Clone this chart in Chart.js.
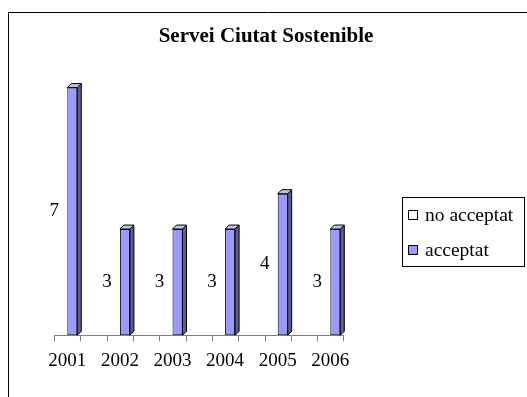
<!DOCTYPE html>
<html><head><meta charset="utf-8">
<script src="https://cdn.jsdelivr.net/npm/chart.js@4.4.0/dist/chart.umd.min.js"></script>
<style>html,body{margin:0;padding:0;background:#fff;overflow:hidden;} #wrap{position:relative;width:527px;height:397px;}</style>
</head><body><div id="wrap"><canvas id="c" width="527" height="397"></canvas></div>
<script>
// ---- data ----
const categories = ['2001', '2002', '2003', '2004', '2005', '2006'];
const noAcceptat = [0, 0, 0, 0, 0, 0];
const acceptat = [7, 3, 3, 3, 4, 3];
const seriesNames = ['no acceptat', 'acceptat'];
const chartTitle = 'Servei Ciutat Sostenible';

// ---- styles ----
const FONT = '"Liberation Serif", "Times New Roman", serif';
const FRONT = '#9999ff', SIDE = '#5c5c99', TOP = '#c4c4d8';

const deco = {
  id: 'deco',
  beforeDraw(chart) {
    const ctx = chart.ctx;
    ctx.save();
    ctx.fillStyle = '#fff';
    ctx.fillRect(0, 0, chart.width, chart.height);
    ctx.strokeStyle = '#000';
    ctx.lineWidth = 1;
    ctx.beginPath();
    ctx.moveTo(8.5, chart.height);
    ctx.lineTo(8.5, 12.5);
    ctx.lineTo(chart.width, 12.5);
    ctx.stroke();
    ctx.restore();
  },
  afterDatasetsDraw(chart) {
    const ctx = chart.ctx, xs = chart.scales.x, area = chart.chartArea;
    const cw = xs.width / categories.length;
    ctx.save();
    // category axis with ticks
    ctx.strokeStyle = '#808080';
    ctx.lineWidth = 1;
    const yb = Math.round(area.bottom) + 0.5;
    const first = xs.getPixelForValue(0) - cw / 4;
    const last = xs.getPixelForValue(categories.length - 1) + cw / 4;
    ctx.beginPath();
    ctx.moveTo(first, yb); ctx.lineTo(last, yb);
    categories.forEach((c, i) => {
      const p = xs.getPixelForValue(i);
      [p - cw / 4, p + cw / 4].forEach(t => {
        const tx = Math.round(t) + 0.5;
        ctx.moveTo(tx, yb); ctx.lineTo(tx, yb + 6);
      });
    });
    ctx.stroke();
    // 3D faces
    const d = 4;
    ctx.strokeStyle = '#000';
    const meta = chart.getDatasetMeta(1);
    meta.data.forEach(bar => {
      const p = bar.getProps(['x', 'y', 'base', 'width'], true);
      if (p.base - p.y < 0.5) return;
      const l = p.x - p.width / 2, r = p.x + p.width / 2;
      ctx.beginPath();
      ctx.moveTo(r, p.y); ctx.lineTo(r + d, p.y - d); ctx.lineTo(r + d, p.base - d); ctx.lineTo(r, p.base);
      ctx.closePath(); ctx.fillStyle = SIDE; ctx.fill(); ctx.stroke();
      ctx.beginPath();
      ctx.moveTo(l, p.y); ctx.lineTo(l + d, p.y - d); ctx.lineTo(r + d, p.y - d); ctx.lineTo(r, p.y);
      ctx.closePath(); ctx.fillStyle = TOP; ctx.fill(); ctx.stroke();
    });
    // value labels
    const meta0 = chart.getDatasetMeta(0);
    ctx.fillStyle = '#000';
    ctx.font = '19px ' + FONT;
    ctx.textAlign = 'center';
    ctx.textBaseline = 'middle';
    meta.data.forEach((bar, i) => {
      const p = bar.getProps(['y', 'base'], true);
      const x0 = meta0.data[i].getProps(['x'], true).x;
      ctx.fillText(String(acceptat[i]), x0 - 8, (p.y + p.base) / 2);
    });
    ctx.restore();
  },
  afterDraw(chart) {
    const ctx = chart.ctx;
    ctx.save();
    ctx.strokeStyle = '#000';
    ctx.lineWidth = 1;
    ctx.strokeRect(402.5, 197.5, 122, 69);
    ctx.font = '19.5px ' + FONT;
    ctx.textAlign = 'left';
    ctx.textBaseline = 'middle';
    chart.data.datasets.forEach((ds, i) => {
      const cy = 215 + i * 35;
      ctx.fillStyle = ds.backgroundColor;
      ctx.fillRect(408, cy - 5, 10, 10);
      ctx.strokeStyle = ds.borderColor;
      ctx.strokeRect(408.5, cy - 4.5, 9, 9);
      ctx.fillStyle = '#000';
      ctx.fillText(ds.label, 425, cy + 1);
    });
    ctx.restore();
  }
};

new Chart(document.getElementById('c'), {
  type: 'bar',
  data: {
    labels: categories,
    datasets: [
      { label: seriesNames[0], data: noAcceptat, backgroundColor: '#ffffff', borderColor: '#000000', borderWidth: 1, borderSkipped: false },
      { label: seriesNames[1], data: acceptat, backgroundColor: FRONT, borderColor: '#000000', borderWidth: 1, borderSkipped: false }
    ]
  },
  options: {
    responsive: false,
    animation: false,
    devicePixelRatio: 1,
    layout: { padding: { left: 5, right: 0, top: 0, bottom: 19 } },
    datasets: { bar: { barPercentage: 1, categoryPercentage: 0.38 } },
    plugins: {
      legend: { display: false },
      tooltip: { enabled: false },
      title: {
        display: true, text: chartTitle, color: '#000',
        font: { family: FONT, size: 21, weight: 'bold', lineHeight: 1.2 },
        padding: { top: 24, bottom: 3 }
      }
    },
    scales: {
      x: {
        grid: { display: false }, border: { display: false },
        ticks: { color: '#000', font: { family: FONT, size: 19 }, padding: 6, maxRotation: 0, autoSkip: false }
      },
      y: {
        position: 'left', min: 0, max: 8,
        grid: { display: false }, border: { display: false }, ticks: { display: false },
        afterFit(s) { s.width = 36; }
      },
      yr: {
        position: 'right',
        grid: { display: false }, border: { display: false }, ticks: { display: false },
        afterFit(s) { s.width = 170.4; }
      }
    }
  },
  plugins: [deco]
});
</script>
</body></html>
